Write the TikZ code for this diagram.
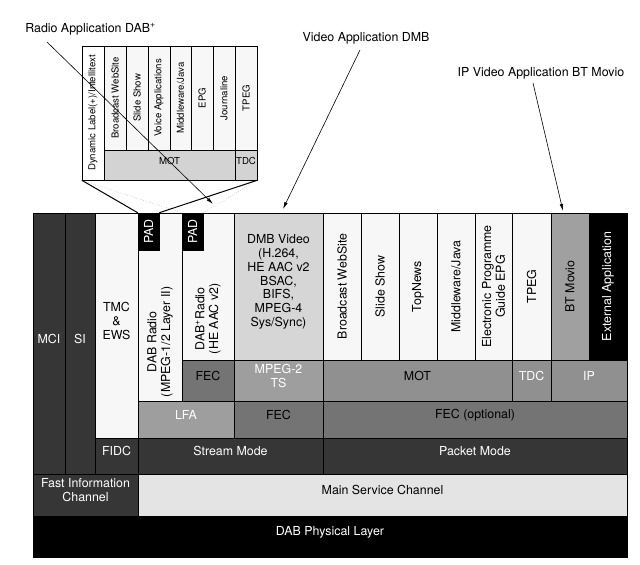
\documentclass[tikz,border=0pt]{standalone}
\usepackage{fontspec}
\setmainfont{TeX Gyre Heros}
\usepackage{tikz}
\usetikzlibrary{arrows.meta, fit, positioning}
\definecolor{darkgrey}{HTML}{363636}
\definecolor{palegrey}{HTML}{F7F7F7}
\definecolor{lightgrey}{HTML}{D6D6D6}
\definecolor{midgrey}{HTML}{9E9E9E}
\definecolor{fecgrey}{HTML}{747474}
\definecolor{motgrey}{HTML}{909090}
\definecolor{moviogrey}{HTML}{A0A0A0}
\definecolor{servicegrey}{HTML}{E4E4E4}
\definecolor{callgrey}{HTML}{D3D3D3}
\def \mainsize {\fontsize{12.4}{13.8}\selectfont}
\def \callsize {\fontsize{9.6}{11}\selectfont}

\begin{document}
\begin{tikzpicture}[
	  x=1pt, y=-1pt,
	  cell/.style={
	  	draw=black,
	  	line width=0.5pt,
	  	inner sep=0pt,
	  	align=center,
	  	text=black,
	  	font=\mainsize
	  },
	  dark/.style={cell, fill=darkgrey, text=white},
	  blackcell/.style={cell, fill=black, text=white},
	  pale/.style={cell, fill=palegrey},
	  light/.style={cell, fill=lightgrey},
	  mid/.style={cell, fill=midgrey, text=white},
	  fec/.style={cell, fill=fecgrey},
	  mot/.style={cell, fill=motgrey},
	  service/.style={cell, fill=servicegrey},
	  rotlabel/.style={rotate=90, inner sep=0pt, align=center, font=\mainsize},
	  callcell/.style={cell, fill=palegrey, font=\callsize},
	  callrow/.style={cell, fill=callgrey, font=\callsize},
	  callrot/.style={rotate=90, inner sep=0pt, align=center, font=\callsize},
	  caption/.style={inner sep=0pt, font=\mainsize},
	  pointer/.style={-{Latex[length=7pt, width=3.5pt]}, line width=0.6pt}]
	\useasboundingbox (0,0) rectangle (640,565);
	% Control columns
	\node[dark, fit={(33,213) (65,474)}] (mci) {MCI};
	\node[dark, fit={(65,213) (95,474)}] (si) {SI};
	\node[pale, fit={(95,213) (138,438)}] (tmc) {TMC\\\&\\EWS};
	\node[dark, fit={(95,438) (138,474)}] (fidc) {FIDC};
	% Stream mode
	\node[pale, fit={(138,213) (182,401)}] (dabradio) {};
	\node[blackcell, fit={(138,213) (159,250)}, label={[rotlabel, text=white]center:PAD}] (pad1) {};
	\node[rotlabel, anchor=west] (dabradiotext) at ([yshift=4pt]dabradio.south) {DAB Radio\\(MPEG-1/2 Layer II)};
	\node[pale, fit={(182,213) (234,360)}] (dabplus) {};
	\node[blackcell, fit={(182,213) (203,250)}, label={[rotlabel, text=white]center:PAD}] (pad2) {};
	\node[rotlabel, anchor=west] (dabplustext) at ([yshift=6pt]dabplus.south) {DAB\textsuperscript{+}Radio\\(HE AAC v2)};
	\node[fec, fit={(182,360) (234,401)}] (fecplus) {FEC};
	\node[light, fit={(234,213) (323,360)}] (dmb) {DMB Video\\(H.264,\\HE AAC v2\\BSAC,\\BIFS,\\MPEG-4\\Sys/Sync)};
	\node[mid, fit={(234,360) (323,401)}] (mpegts) {MPEG-2\\TS};
	\node[mid, fit={(138,401) (234,438)}] (lfa) {LFA};
	\node[fec, fit={(234,401) (323,438)}] (fecdmb) {FEC};
	\node[dark, fit={(138,438) (323,474)}] (stream) {Stream Mode};
	% Packet mode
	\foreach \name/\xa/\xb/\txt in {bws/323/361/{Broadcast WebSite}, slides/361/399/{Slide Show},
		topnews/399/437/{TopNews}, mware/437/475/{Middleware/Java},
		epg/475/512/{Electronic Programme\\Guide EPG}, tpeg/512/551/{TPEG}}
		\node[pale, fit={(\xa,213) (\xb,360)}, label={[rotlabel]center:\txt}] (\name) {};
	\node[cell, fill=moviogrey, fit={(551,213) (589,360)}, label={[rotlabel]center:BT Movio}] (movio) {};
	\node[blackcell, fit={(589,213) (627,360)}, label={[rotlabel, text=white]center:External Application}] (extapp) {};
	\node[mot, fit={(323,360) (512,401)}] (mot) {MOT};
	\node[mot, text=white, fit={(512,360) (551,401)}] (tdc) {TDC};
	\node[mot, text=white, fit={(551,360) (627,401)}] (ip) {IP};
	\node[fec, fit={(323,401) (627,438)}] (fecopt) {FEC (optional)};
	\node[dark, fit={(323,438) (627,474)}] (packet) {Packet Mode};
	% Channels
	\node[dark, fit={(33,474) (138,516)}] (fic) {Fast Information\\Channel};
	\node[service, fit={(138,474) (627,516)}] (msc) {Main Service Channel};
	\node[blackcell, fit={(33,516) (627,557)}] (phy) {DAB Physical Layer};
	% PAD callout
	\node[callcell, fill=white, fit={(82,46) (104,180)}, label={[callrot]center:Dynamic Label(+)/Intellitext}] (dls) {};
	\foreach \name/\xa/\xb/\txt in {cbws/104/126/{Broadcast WebSite}, cslides/126/148/{Slide Show},
		cvoice/148/170/{Voice Applications}, cmware/170/191/{Middleware/Java},
		cepg/191/213/{EPG}, cjournal/213/235/{Journaline}, ctpeg/235/257/{TPEG}}
		\node[callcell, fit={(\xa,46) (\xb,150)}, label={[callrot]center:\txt}] (\name) {};
	\node[callrow, fit={(104,150) (235,180)}] (cmot) {MOT};
	\node[callrow, fit={(235,150) (257,180)}] (ctdc) {TDC};
	\draw[line width=1pt] (dls.south west) -- (pad1.north west);
	\draw[line width=1pt] (ctdc.south east) -- (pad1.north east);
	\draw[dotted, gray] (dls.south west) -- (pad2.north west);
	\draw[dotted, gray] (ctdc.south east) -- (pad2.north east);
	% Application captions
	\node[caption] (radioapp) at (90.5,29) {Radio Application DAB\textsuperscript{+}};
	\node[caption] (videoapp) at (366,38) {Video Application DMB};
	\node[caption] (ipapp) at (541,73) {IP Video Application BT Movio};
	\coordinate (radiofrom) at (47,42);
	\coordinate (radioto) at (213,204);
	\coordinate (videofrom) at (360,50);
	\coordinate (videoto) at (283,209);
	\coordinate (ipfrom) at (533,83);
	\coordinate (ipto) at (563,211);
	\draw[pointer] (radiofrom) -- (radioto);
	\draw[pointer] (videofrom) -- (videoto);
	\draw[pointer] (ipfrom) -- (ipto);
\end{tikzpicture}
\end{document}
